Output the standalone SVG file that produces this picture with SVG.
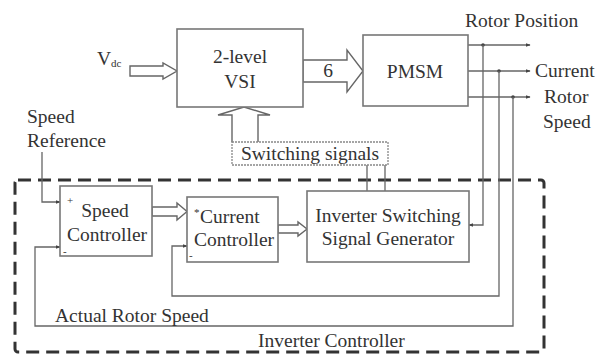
<svg xmlns="http://www.w3.org/2000/svg" width="596" height="354" viewBox="0 0 596 354">
<defs>
<style>
text{font-family:"Liberation Serif","Times New Roman",serif;font-size:19.5px;fill:#333}
.box{fill:#fff;stroke:#777;stroke-width:1.6}
.ln{fill:none;stroke:#666;stroke-width:1.3}
.hol{fill:#fff;stroke:#666;stroke-width:1.4;stroke-linejoin:miter}
.sm{font-size:11px}
.mid{text-anchor:middle}
</style>
<marker id="ah" viewBox="0 0 8 8" refX="7" refY="4" markerWidth="5" markerHeight="5" orient="auto" markerUnits="userSpaceOnUse">
<path d="M0,1 L8,4 L0,7 Z" fill="#444"/>
</marker>
</defs>
<rect width="596" height="354" fill="#fff"/>

<g id="inverter-controller">
<rect x="15" y="180" width="529" height="172" rx="3" fill="none" stroke="#333" stroke-width="3" stroke-dasharray="13 7"/>
<text x="258" y="347">Inverter Controller</text>
</g>

<g id="connectors">
<path class="hol" d="M130,66 L163,66 L163,63 L177,71 L163,79 L163,76 L130,76 Z"/>
<path class="hol" d="M303,60 L347,60 L347,50 L363,71 L347,92 L347,82 L303,82 Z"/>
<text x="328" y="77" class="mid">6</text>
<path class="hol" d="M232,142 L232,115 L218,115 L244,107 L270,115 L258,115 L258,142"/>
<path class="hol" d="M152,207 L177,207 L177,203 L187,211.5 L177,220 L177,216 L152,216 Z"/>
<path class="hol" d="M278,225 L298,225 L298,222 L307,229 L298,236 L298,233 L278,233 Z"/>
<path class="ln" d="M367,165 V191 M385,165 V191"/>
<path class="ln" d="M468,45 H530" marker-end="url(#ah)"/>
<path class="ln" d="M468,71 H530" marker-end="url(#ah)"/>
<path class="ln" d="M468,97 H530" marker-end="url(#ah)"/>
<circle cx="483" cy="45" r="1.8" fill="#444"/>
<circle cx="499" cy="71" r="1.8" fill="#444"/>
<circle cx="513" cy="97" r="1.8" fill="#444"/>
<path class="ln" d="M483,45 V225 H469" marker-end="url(#ah)"/>
<path class="ln" d="M499,71 V296 H172 V246 H187" marker-end="url(#ah)"/>
<path class="ln" d="M513,97 V326 H35 V247 H60" marker-end="url(#ah)"/>
<path class="ln" d="M42,152 V202 H60" marker-end="url(#ah)"/>
</g>

<g id="vdc">
<text x="97" y="65">V<tspan class="sm" dy="2">dc</tspan></text>
</g>

<g id="vsi">
<rect class="box" x="177" y="29" width="126" height="78"/>
<text x="240" y="63" class="mid">2-level</text>
<text x="240" y="88" class="mid">VSI</text>
</g>

<g id="pmsm">
<rect class="box" x="363" y="35" width="105" height="71"/>
<text x="415" y="78" class="mid">PMSM</text>
</g>

<g id="outputs">
<text x="465" y="27">Rotor Position</text>
<text x="535" y="77">Current</text>
<text x="544" y="103">Rotor</text>
<text x="543" y="128">Speed</text>
</g>

<g id="switching-signals">
<rect x="232" y="142" width="156" height="23" fill="#fff" stroke="#888" stroke-width="1.3" stroke-dasharray="2 1"/>
<text x="310" y="160" class="mid">Switching signals</text>
</g>

<g id="speed-reference">
<text x="27" y="123">Speed</text>
<text x="27" y="147">Reference</text>
</g>

<g id="speed-controller">
<rect class="box" x="60" y="186" width="92" height="70"/>
<text x="105" y="217" class="mid">Speed</text>
<text x="107" y="241" class="mid">Controller</text>
<text x="67" y="204" class="sm">+</text>
<text x="63" y="255" class="sm">-</text>
</g>

<g id="current-controller">
<rect class="box" x="187" y="197" width="91" height="65"/>
<text x="200" y="223">Current</text>
<text x="194" y="216" class="sm">*</text>
<text x="234" y="246" class="mid">Controller</text>
<text x="189" y="259" class="sm">-</text>
</g>

<g id="isg">
<rect class="box" x="307" y="191" width="162" height="71"/>
<text x="388" y="222" class="mid">Inverter Switching</text>
<text x="388" y="245" class="mid">Signal Generator</text>
</g>

<g id="actual-rotor-speed">
<text x="55" y="322">Actual Rotor Speed</text>
</g>
</svg>
